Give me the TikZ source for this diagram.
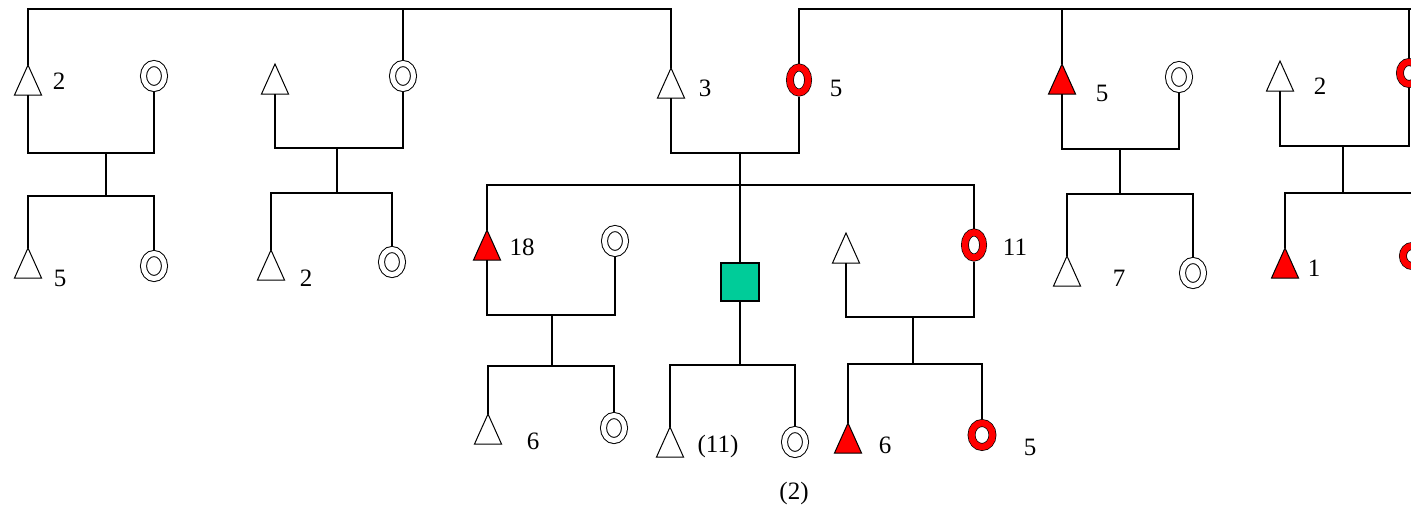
\documentclass[tikz,border=0pt]{standalone}
\usepackage{fontspec}
\setmainfont{Liberation Serif}
\usetikzlibrary{shapes.geometric}
\definecolor{sqgreen}{RGB}{0,204,153}
\begin{document}
\begin{tikzpicture}[x=0.5pt,y=-0.5pt,
  line width=0.6pt,
  male/.style={inner sep=0pt, outer sep=0pt, minimum width=13.5pt, minimum height=15pt},
  tri/.style={draw=black, line width=0.5pt, fill=white, line join=miter},
  ftri/.style={tri, fill=red},
  dcirc/.style={ellipse, draw, inner sep=0pt, minimum width=10.5pt, minimum height=12.5pt, line width=0.5pt, double, double distance=2.5pt, outer sep=1.75pt},
  rcirc/.style={ellipse, draw=black, line width=0.35pt, double=red, double distance=3.2pt, inner sep=0pt, minimum width=9.1pt, minimum height=12.6pt, outer sep=1.95pt},
  sqbox/.style={draw=black, fill=sqgreen, line width=0.6pt, inner sep=0pt, minimum size=19pt},
  lab/.style={inner sep=0pt, font=\fontsize{12.5}{14}\selectfont}
]
\useasboundingbox (0,0) rectangle (1411,510);

% ---------- persons ----------
% family 1
\node[male] (m1) at (28,80) {};
\node[dcirc] (f1) at (154,76) {};
\node[male] (m1c) at (28,263) {};
\node[dcirc] (f1c) at (154,266) {};
% family 2
\node[male] (m2) at (275,79) {};
\node[dcirc] (f2) at (403,76) {};
\node[male] (m2c) at (271,265) {};
\node[dcirc] (f2c) at (392,262) {};
% central
\node[male] (m3) at (671,83) {};
\node[rcirc] (f3) at (799,80) {};
\node[male] (m4) at (487,245) {};
\node[dcirc] (f4) at (615,241) {};
\node[male] (m4c) at (488,429) {};
\node[dcirc] (f4c) at (614,428) {};
\node[sqbox] (sq) at (740,282) {};
\node[male] (sqm) at (670,442) {};
\node[dcirc] (sqf) at (795,442) {};
\node[male] (m5) at (846,248) {};
\node[rcirc] (f5) at (974,245) {};
\node[male] (m5c) at (848,438) {};
\node[rcirc, minimum width=10.5pt, minimum height=12pt] (f5c) at (982,435) {};
% family 3
\node[male] (m6) at (1062,79) {};
\node[dcirc] (f6) at (1179,77) {};
\node[male] (m6c) at (1067,271) {};
\node[dcirc] (f6c) at (1193,273) {};
% family 4
\node[male] (m7) at (1280,76) {};
\node[rcirc, minimum height=11pt] (f7) at (1409,73) {};
\node[male] (m7c) at (1285,263) {};
\node[rcirc, minimum height=10pt] (f7c) at (1412,256) {};

% triangles
\foreach \n in {m1,m1c,m2,m2c,m3,m4c,sqm,m5,m6c,m7}
  \draw[tri] (\n.south west) -- (\n.north) -- (\n.south east) -- cycle;
\foreach \n in {m4,m5c,m6,m7c}
  \draw[ftri] (\n.south west) -- (\n.north) -- (\n.south east) -- cycle;

% ---------- labels ----------
\node[lab] (l1) at (59,81) {2};
\node[lab] (l2) at (60,278) {5};
\node[lab] (l3) at (306,278) {2};
\node[lab] (l4) at (705,88) {3};
\node[lab] (l5) at (836,88) {5};
\node[lab] (l6) at (522,247) {18};
\node[lab] (l7) at (533,441) {6};
\node[lab] (l8) at (718,446) {(11)};
\node[lab] (l9) at (885,445) {6};
\node[lab] (l10) at (1030,447) {5};
\node[lab] (l11) at (1015,247) {11};
\node[lab] (l12) at (1102,93) {5};
\node[lab] (l13) at (1119,278) {7};
\node[lab] (l14) at (1320,86) {2};
\node[lab] (l15) at (1314,268) {1};
\node[lab] (l16) at (794,493) {(2)};

% ---------- connectors ----------
\coordinate (top) at (0,9);
\coordinate (topR) at (1411,9);
\draw (m1.north) -- (m1.north |- top) -- (m3.north |- top) -- (m3.north);
\draw (f2.north) -- (f2.north |- top);
\draw (f3.north) -- (f3.north |- top) -- (topR);
\draw (m6.north) -- (m6.north |- top);
\draw (f7.north) -- (f7.north |- top);

% family 1
\coordinate (a1) at (106,153); \coordinate (b1) at (106,196);
\draw (m1.south) -- (m1.south |- a1) -- (f1.south |- a1) -- (f1.south);
\draw (a1) -- (b1);
\draw (m1c.north) -- (m1c.north |- b1) -- (f1c.north |- b1) -- (f1c.north);
% family 2
\coordinate (a2) at (337,148); \coordinate (b2) at (337,193);
\draw (m2.south) -- (m2.south |- a2) -- (f2.south |- a2) -- (f2.south);
\draw (a2) -- (b2);
\draw (m2c.north) -- (m2c.north |- b2) -- (f2c.north |- b2) -- (f2c.north);
% central
\coordinate (a3) at (740,153); \coordinate (b3) at (740,185);
\draw (m3.south) -- (m3.south |- a3) -- (f3.south |- a3) -- (f3.south);
\draw (a3) -- (sq.north);
\draw (m4.north) -- (m4.north |- b3) -- (f5.north |- b3) -- (f5.north);
% left sub-family
\coordinate (a4) at (552,315); \coordinate (b4) at (552,366);
\draw (m4.south) -- (m4.south |- a4) -- (f4.south |- a4) -- (f4.south);
\draw (a4) -- (b4);
\draw (m4c.north) -- (m4c.north |- b4) -- (f4c.north |- b4) -- (f4c.north);
% square's children
\coordinate (b5) at (740,365);
\draw (sq.south) -- (b5);
\draw (sqm.north) -- (sqm.north |- b5) -- (sqf.north |- b5) -- (sqf.north);
% right sub-family
\coordinate (a6) at (913,317); \coordinate (b6) at (913,364);
\draw (m5.south) -- (m5.south |- a6) -- (f5.south |- a6) -- (f5.south);
\draw (a6) -- (b6);
\draw (m5c.north) -- (m5c.north |- b6) -- (f5c.north |- b6) -- (f5c.north);
% family 3
\coordinate (a7) at (1120,149); \coordinate (b7) at (1120,194);
\draw (m6.south) -- (m6.south |- a7) -- (f6.south |- a7) -- (f6.south);
\draw (a7) -- (b7);
\draw (m6c.north) -- (m6c.north |- b7) -- (f6c.north |- b7) -- (f6c.north);
% family 4
\coordinate (a8) at (1343,146); \coordinate (b8) at (1343,193);
\draw (m7.south) -- (m7.south |- a8) -- (f7.south |- a8) -- (f7.south);
\draw (a8) -- (b8);
\draw (m7c.north) -- (m7c.north |- b8) -- (f7c.north |- b8) -- (f7c.north);
\end{tikzpicture}
\end{document}
